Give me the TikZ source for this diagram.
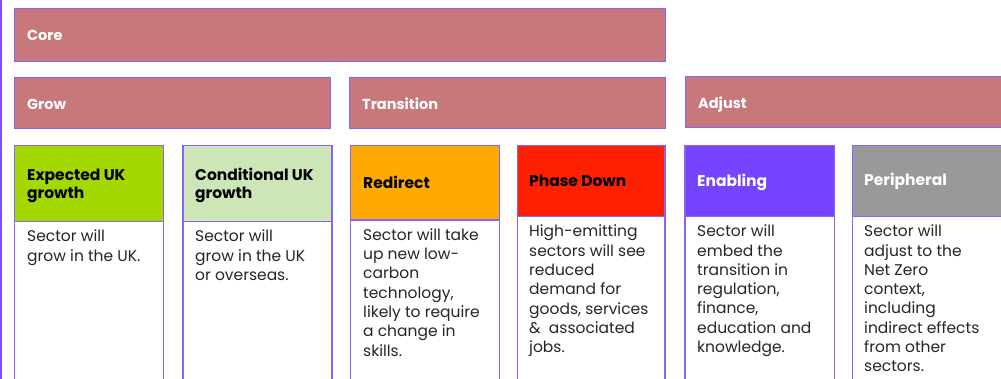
\documentclass[tikz,border=0pt]{standalone}
\usepackage{fontspec}
\setmainfont{Poppins}
\definecolor{titlefill}{HTML}{C8777B}
\definecolor{edge}{HTML}{8A63F5}
\definecolor{leftline}{HTML}{7B4DFF}
\definecolor{expfill}{HTML}{A3D800}
\definecolor{condfill}{HTML}{CDE6B7}
\definecolor{redfill}{HTML}{FFAA00}
\definecolor{phasefill}{HTML}{FF2000}
\definecolor{enabfill}{HTML}{7444FF}
\definecolor{perifill}{HTML}{999999}
\definecolor{bodytext}{HTML}{262626}
\begin{document}
\begin{tikzpicture}[x=1pt,y=-1pt,
  box/.style={draw=edge, line width=1.3pt, inner sep=0pt, anchor=north west},
  titletxt/.style={anchor=base west, inner sep=0pt, text=white, font=\bfseries\fontsize{14.5}{17}\selectfont},
  headtxt/.style={anchor=north west, inner sep=0pt, align=left, font=\bfseries\fontsize{15.5}{18.5}\selectfont},
  bodytxt/.style={anchor=north west, inner sep=0pt, align=left, text=bodytext, font=\fontsize{15.5}{19.3}\selectfont}]
\clip (0,0) rectangle (1001,378);
\fill[white] (0,0) rectangle (1001,378);
\draw[leftline, line width=1.6pt] (1.3,-5) -- (1.3,390);

% top level titles
\node[box, fill=titlefill, minimum width=651, minimum height=53] (core) at (14,7.5) {};
\node[titletxt] (coret) at (27,40) {Core};
\node[box, fill=titlefill, minimum width=316, minimum height=50.5] (grow) at (14,77) {};
\node[titletxt] (growt) at (27,109) {Grow};
\node[box, fill=titlefill, minimum width=316, minimum height=51] (trans) at (349,77) {};
\node[titletxt] (transt) at (362,109) {Transition};
\node[box, fill=titlefill, minimum width=340, minimum height=51] (adj) at (685,76) {};
\node[titletxt] (adjt) at (698,108) {Adjust};

% bodies (open at bottom, clipped)
\node[box, minimum width=149, minimum height=260] (b1) at (14,145) {};
\node[box, minimum width=149, minimum height=260] (b2) at (182.3,145) {};
\node[box, minimum width=149, minimum height=260] (b3) at (350,145) {};
\node[box, minimum width=147.5, minimum height=260] (b4) at (516.7,145) {};
\node[box, minimum width=149.7, minimum height=260] (b5) at (684.3,145) {};
\node[box, minimum width=170, minimum height=260] (b6) at (851.7,145) {};

% headers
\node[box, fill=expfill, minimum width=149, minimum height=75.7] (h1) at (14,145) {};
\node[box, fill=condfill, minimum width=149, minimum height=75.7] (h2) at (182.3,145) {};
\node[box, fill=redfill, minimum width=149, minimum height=74.3] (h3) at (350,145) {};
\node[box, fill=phasefill, minimum width=147.5, minimum height=71] (h4) at (516.7,145) {};
\node[box, fill=enabfill, minimum width=149.7, minimum height=71] (h5) at (684.3,145) {};
\node[box, fill=perifill, minimum width=170, minimum height=71] (h6) at (851.7,145) {};

% header texts: top = first baseline - 0.7*18.5
\node[headtxt] (h1t) at (27,167.05) {\strut Expected UK\\growth};
\node[headtxt] (h2t) at (195,167.05) {\strut Conditional UK\\growth};
\node[headtxt] (h3t) at (363,175.05) {\strut Redirect};
\node[headtxt] (h4t) at (529,173.75) {\strut Phase Down};
\node[headtxt, text=white] (h5t) at (697,173.75) {\strut Enabling};
\node[headtxt, text=white] (h6t) at (864,172.75) {\strut Peripheral};

% body texts: top = first baseline - 0.7*19.3
\node[bodytxt] (t1) at (27,228.0) {\strut Sector will\\grow in the UK.};
\node[bodytxt] (t2) at (195,228.0) {\strut Sector will\\grow in the UK\\or overseas.};
\node[bodytxt] (t3) at (363,226.5) {\strut Sector will take\\up new low-\\carbon\\technology,\\likely to require\\a change in\\skills.};
\node[bodytxt] (t4) at (529,223.2) {\strut High-emitting\\sectors will see\\reduced\\demand for\\goods, services\\\&\ \ associated\\jobs.};
\node[bodytxt] (t5) at (697,223.0) {\strut Sector will\\embed the\\transition in\\regulation,\\finance,\\education and\\knowledge.};
\node[bodytxt] (t6) at (864,223.0) {\strut Sector will\\adjust to the\\Net Zero\\context,\\including\\indirect effects\\from other\\sectors.};
\end{tikzpicture}
\end{document}
